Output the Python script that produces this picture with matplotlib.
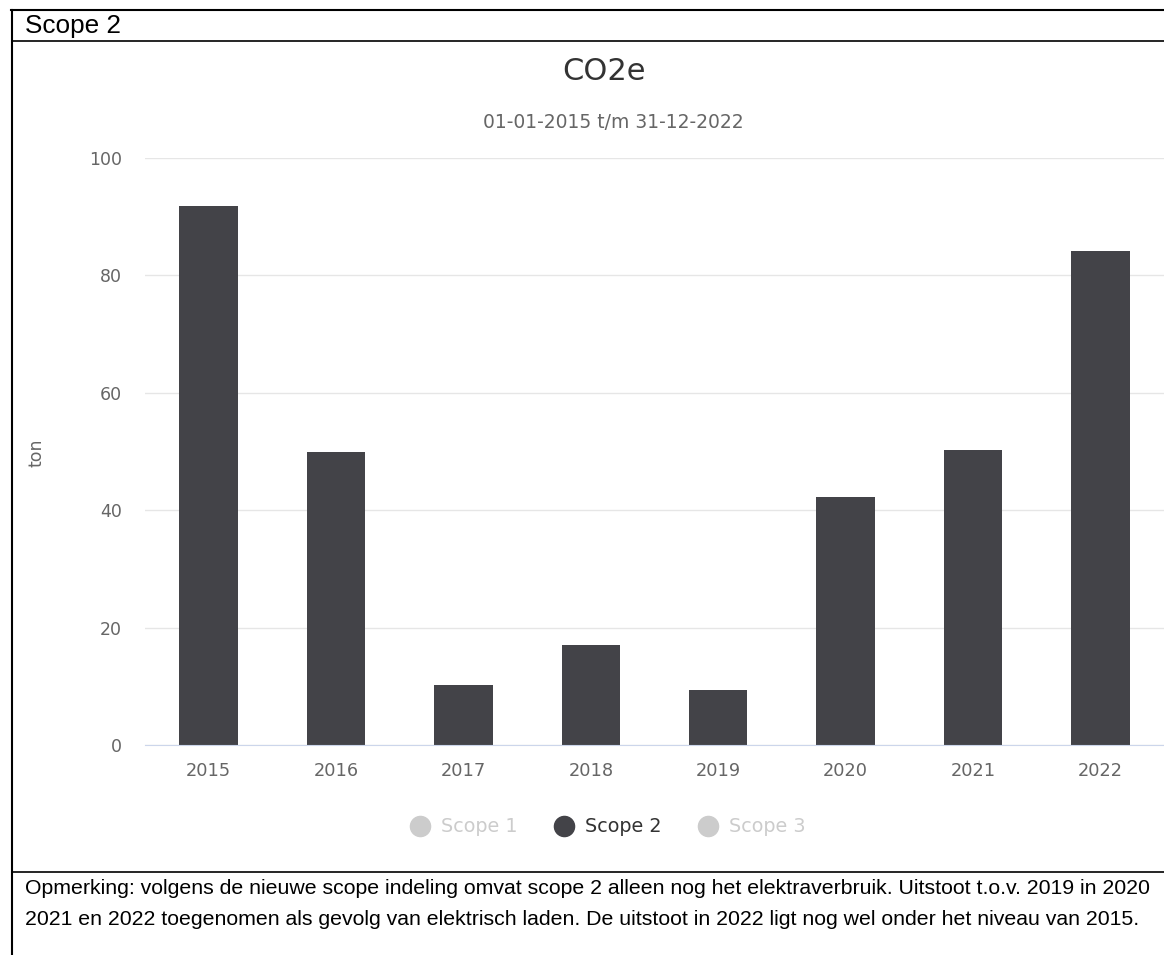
import matplotlib.pyplot as plt
from matplotlib.lines import Line2D

years = ["2015", "2016", "2017", "2018", "2019", "2020", "2021", "2022"]
scope2 = [91.8, 49.9, 10.2, 17.0, 9.4, 42.3, 50.2, 84.2]
legend_labels = ["Scope 1", "Scope 2", "Scope 3"]
legend_colors = ["#cccccc", "#434348", "#cccccc"]
legend_text_colors = ["#cccccc", "#333333", "#cccccc"]

plt.rcParams["font.family"] = ["DejaVu Sans"]

W, H = 1164, 955
fig = plt.figure(figsize=(W / 100, H / 100), dpi=100)

def fx(px):
    return px / W

def fy(py):
    return 1 - py / H

# outer frame of the table cell
fig.add_artist(Line2D([fx(11), 1], [fy(10), fy(10)], color="black", lw=1.5))
fig.add_artist(Line2D([fx(12), fx(12)], [fy(10), 0], color="black", lw=1.5))
fig.add_artist(Line2D([fx(12), 1], [fy(41), fy(41)], color="black", lw=1.2))
fig.add_artist(Line2D([fx(12), 1], [fy(872), fy(872)], color="black", lw=1.2))
fig.text(fx(25), fy(26), "Scope 2", fontsize=18.8, family="Liberation Sans",
         va="center", ha="left", color="black")

note = ("Opmerking: volgens de nieuwe scope indeling omvat scope 2 alleen nog het elektraverbruik. "
        "Uitstoot t.o.v. 2019 in 2020\n"
        "2021 en 2022 toegenomen als gevolg van elektrisch laden. "
        "De uitstoot in 2022 ligt nog wel onder het niveau van 2015.")
fig.text(fx(25), fy(904), note, fontsize=15.35, family="Liberation Sans",
         va="center", ha="left", color="black", linespacing=1.8)

ax = fig.add_axes([fx(145), fy(745), 1 - fx(145), fy(158) - fy(745)])
x = range(len(years))
ax.bar(x, scope2, width=0.46, color="#434348", zorder=3)
ax.set_xlim(-0.5, len(years) - 0.5)
ax.set_ylim(0, 100)
ax.set_yticks([0, 20, 40, 60, 80, 100])
ax.set_xticks(list(x))
ax.set_xticklabels(years)
ax.tick_params(axis="y", length=0, pad=16.5, labelsize=12.5, labelcolor="#666666")
ax.tick_params(axis="x", length=0, pad=12.5, labelsize=12.8, labelcolor="#666666")
ax.grid(axis="y", color="#e6e6e6", lw=1, zorder=0)
ax.set_axisbelow(True)
for s in ["top", "right", "left"]:
    ax.spines[s].set_visible(False)
ax.spines["bottom"].set_color("#ccd6eb")
ax.spines["bottom"].set_zorder(4)

fig.text(fx(37), fy(453), "ton", fontsize=12.5, color="#666666", rotation=90,
         ha="center", va="center")

fig.text(fx(604), fy(72), "CO2e", fontsize=22, color="#333333", ha="center", va="center")
fig.text(fx(613), fy(123), "01-01-2015 t/m 31-12-2022", fontsize=13.5, color="#666666",
         ha="center", va="center")

# legend items
leg_x = [420, 564, 708]
for cx, lab, mc, tc in zip(leg_x, legend_labels, legend_colors, legend_text_colors):
    fig.add_artist(Line2D([fx(cx)], [fy(826)], marker="o", ls="", markersize=14.5,
                          color=mc, markeredgecolor=mc))
    fig.text(fx(cx + 21), fy(826), lab, fontsize=13.8, color=tc, ha="left", va="center")

fig.savefig("out.png", dpi=100)
